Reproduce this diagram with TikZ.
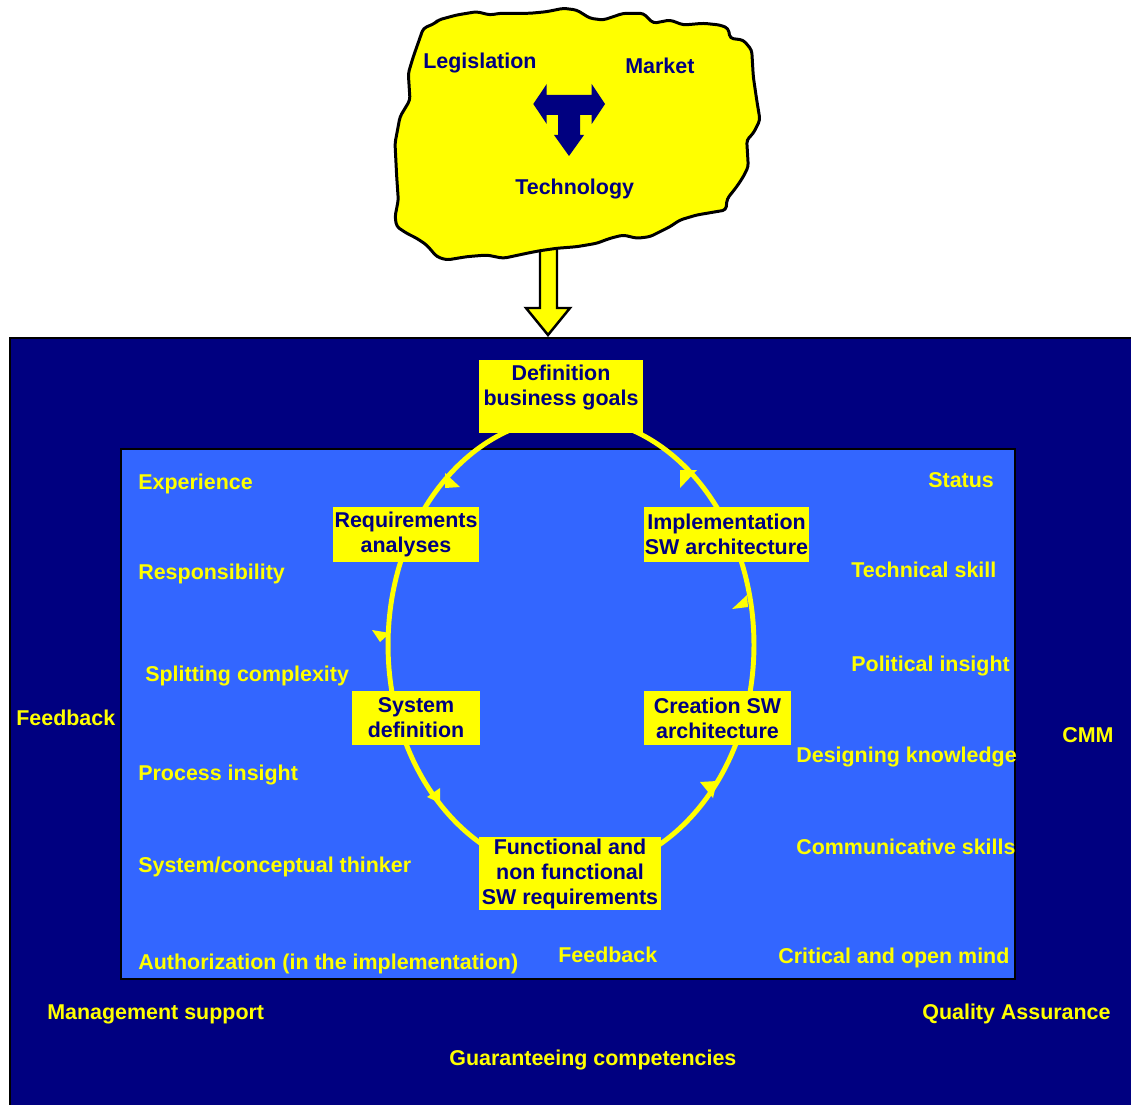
\documentclass[tikz,border=0pt]{standalone}
\usepackage{fontspec}
\setmainfont{Liberation Sans}
\definecolor{navy}{RGB}{0,0,128}
\definecolor{lblue}{RGB}{51,102,255}
\definecolor{yel}{RGB}{255,255,0}
\begin{document}
\begin{tikzpicture}[x=0.02cm,y=-0.02cm,
  every node/.style={font=\fontsize{12.2}{14.2}\selectfont\bfseries},
  box/.style={fill=yel, text=navy, align=center, inner sep=0pt},
  boxtext/.style={text=navy, align=center, inner sep=0pt},
  lbl/.style={text=yel, anchor=base west, inner sep=0pt},
  cloudtxt/.style={text=navy, anchor=base west, inner sep=0pt},
  cyc/.style={draw=yel, line width=2.8pt},
  tiptri/.style={fill=yel}]

\useasboundingbox (0,0) rectangle (1131,1104);
\fill[white] (0,0) rectangle (1131,1104);

% outer and inner frames
\draw[fill=navy, draw=black, line width=0.8pt] (10,338) rectangle (1145,1120);
\draw[fill=lblue, draw=black, line width=0.8pt] (121,449) rectangle (1015,979);

% big down arrow from the cloud
\draw[fill=yel, draw=black, line width=1.4pt, line join=miter]
  (540,240) -- (540,308) -- (526,308) -- (548,335) -- (570,308) -- (557,308) -- (557,240) -- cycle;

% cloud
\draw[fill=yel, draw=black, line width=1.7pt, rounded corners=2pt, line join=round]
 (423.3,28.3) -- (435,23.3) -- (438.3,20) -- (456.7,15) -- (476.7,11.7) -- (490,15) -- (500,13.3)
 -- (530,13.3) -- (546.7,11.7) -- (563.3,8.3) -- (576.7,10) -- (590,18.3) -- (603.3,20)
 -- (623.3,13.3) -- (643.3,13.3) -- (653.3,23.3) -- (670,20) -- (683.3,25) -- (703.3,23.3)
 -- (720,25) -- (728.3,28.3) -- (730,38.3) -- (743.3,40) -- (751.7,50) -- (753.3,76.7)
 -- (756.7,100) -- (760,120) -- (753.3,133.3) -- (746.7,140) -- (748.3,166.7) -- (743.3,176.7)
 -- (736.7,186.7) -- (727,199) -- (726,210) -- (696.7,215) -- (680,220)
 -- (670,226.7) -- (650,236.7) -- (636.7,238.3) -- (623.3,235) -- (610,238.3) -- (596.7,243.3)
 -- (576.7,246.7) -- (556.7,248.3) -- (540,250.7) -- (526.7,253.3) -- (503.3,258.3) -- (486.7,255)
 -- (466.7,256.7) -- (446.7,260) -- (436.7,256.7) -- (426.7,245) -- (416.7,238.3) -- (406.7,233.3)
 -- (396.7,226.7) -- (395,216.7) -- (398.3,200) -- (396.7,176.7) -- (395,143.3) -- (400,116.7)
 -- (410,100) -- (408.3,73.3) -- (413.3,56.7) -- cycle;

% T-shaped three-way arrow
\fill[navy] (533.3,104) -- (546.7,84) -- (546.7,95) -- (591.7,95) -- (591.7,84) -- (605,104)
  -- (591.7,124) -- (591.7,115) -- (580,115) -- (580,135) -- (584,135) -- (569,156)
  -- (554,135) -- (558,135) -- (558,115) -- (546.7,115) -- (546.7,124) -- cycle;

\node[cloudtxt] (legis) at (423,69) {Legislation};
\node[cloudtxt] (market) at (625,74) {Market};
\node[cloudtxt] (techno) at (515,195) {Technology};

% cycle
\draw[cyc] (571,645) ellipse [x radius=3.66cm, y radius=4.56cm];
\fill[tiptri] (445,473) -- (445,488) -- (460,487) -- cycle;
\fill[tiptri] (680,470) -- (697,470) -- (680,488) -- cycle;
\fill[tiptri] (747,595) -- (732,609) -- (748,607) -- cycle;
\fill[tiptri] (372,630) -- (390,633) -- (380,642) -- cycle;
\fill[tiptri] (440,788) -- (440,803) -- (427,797) -- cycle;
\fill[tiptri] (700,782) -- (717,781) -- (713,798) -- cycle;

% process boxes
\node[box, minimum width=3.28cm, minimum height=1.46cm] (def) at (561,396.5) {};
\node[boxtext] (deftext) at (561,387.5) {Definition\\business goals};
\node[box, minimum width=2.92cm, minimum height=1.10cm] (req) at (406,534.5) {Requirements\\analyses};
\node[box, minimum width=3.30cm, minimum height=1.10cm] (impl) at (726.5,534.5) {Implementation\\SW architecture};
\node[box, minimum width=2.56cm, minimum height=1.08cm] (sys) at (416,718) {System\\definition};
\node[box, minimum width=2.94cm, minimum height=1.08cm] (crea) at (717.5,718) {Creation SW\\architecture};
\node[box, minimum width=3.64cm, minimum height=1.46cm] (func) at (570,873.5) {Functional and\\non functional\\SW requirements};

% inner labels
\node[lbl] (l1) at (138,489) {Experience};
\node[lbl] (l2) at (138,579) {Responsibility};
\node[lbl] (l3) at (145,681) {Splitting complexity};
\node[lbl] (l4) at (138,780) {Process insight};
\node[lbl] (l5) at (138,872) {System/conceptual thinker};
\node[lbl] (l6) at (138,969) {Authorization (in the implementation)};
\node[lbl] (r1) at (928,487) {Status};
\node[lbl] (r2) at (851,577) {Technical skill};
\node[lbl] (r3) at (851,671) {Political insight};
\node[lbl] (r4) at (796,762) {Designing knowledge};
\node[lbl] (r5) at (796,854) {Communicative skills};
\node[lbl] (r6) at (778,963) {Critical and open mind};
\node[lbl] (fbin) at (558,962) {Feedback};

% outer labels
\node[lbl] (fbout) at (16,725) {Feedback};
\node[lbl] (cmm) at (1062,742) {CMM};
\node[lbl] (mgmt) at (47,1019) {Management support};
\node[lbl] (qa) at (922,1019) {Quality Assurance};
\node[lbl] (guar) at (449,1065) {Guaranteeing competencies};
\end{tikzpicture}
\end{document}
